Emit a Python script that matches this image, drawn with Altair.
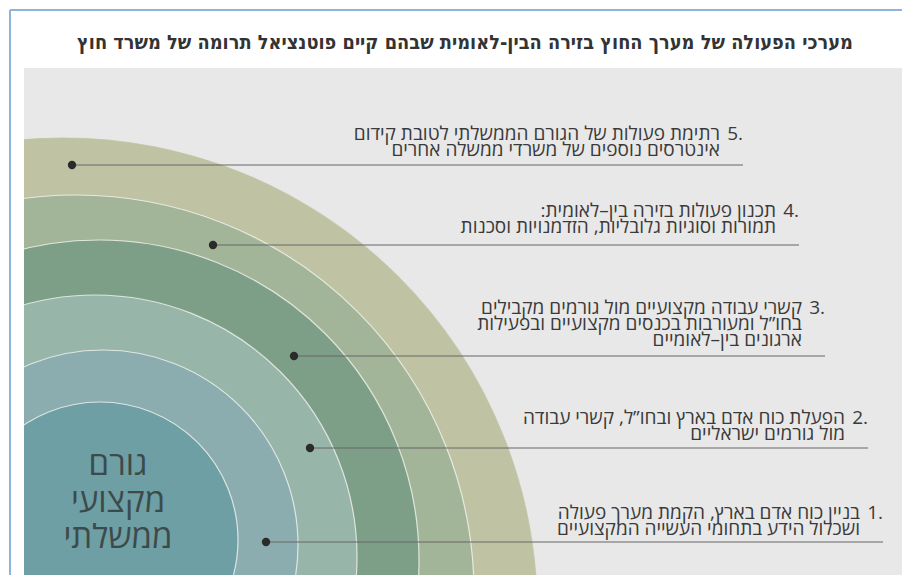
import math
import altair as alt
import pandas as pd

# ---------------- data ----------------
title = "מערכי הפעולה של מערך החוץ בזירה הבין-לאומית שבהם קיים פוטנציאל תרומה של משרד חוץ"
center_label = ["גורם", "מקצועי", "ממשלתי"]
center_label_y = [465, 502, 538]

# nested circles, outermost first (drawn back to front): centre x / y, radius, colour
ring_cx = [63, 76, 99, 95, 103, 100]
ring_cy = [612, 593, 560, 557, 545, 540]
ring_r = [474, 398, 320, 262, 195, 138]
ring_colors = ["#bfc3a3", "#a2b598", "#7d9f87", "#97b5a9", "#8badaf", "#6e9fa4"]

item_numbers = ["1.", "2.", "3.", "4.", "5."]
item_lines = [
    ["בניין כוח אדם בארץ, הקמת מערך פעולה", "ושכלול הידע בתחומי העשייה המקצועיים"],
    ["הפעלת כוח אדם בארץ ובחו”ל, קשרי עבודה", "מול גורמים ישראליים"],
    ["קשרי עבודה מקצועיים מול גורמים מקבילים",
     "בחו”ל ומעורבות בכנסים מקצועיים ובפעילות",
     "ארגונים בין–לאומיים"],
    ["תכנון פעולות בזירה בין–לאומית:", "תמורות וסוגיות גלובליות, הזדמנויות וסכנות"],
    ["רתימת פעולות של הגורם הממשלתי לטובת קידום", "אינטרסים נוספים של משרדי ממשלה אחרים"],
]
dot_x = [266, 310, 294, 213, 72]
dot_y = [542, 448, 356, 245, 165]
leader_end_x = [883, 868, 825, 799, 743]
first_line_y = [513, 418, 308, 211, 134]

# ---------------- layout ----------------
W, H = 894, 567
LINE_H = 16
TEXT_GAP = 23
xs = alt.Scale(domain=[8, 902], range=[0, W])
ys = alt.Scale(domain=[8, 575], range=[0, H])
rs = alt.Scale(type="linear", domain=[0, 1000], range=[0, 1000])
HEB = "Open Sans, DejaVu Sans, sans-serif"


def X(f):
    return alt.X(f, type="quantitative", scale=xs, axis=None)


def Y(f):
    return alt.Y(f, type="quantitative", scale=ys, axis=None)


panel_df = pd.DataFrame({"x": [24], "x2": [902], "y": [68], "y2": [575]})
cover_df = pd.DataFrame({"x": [8], "x2": [24], "y": [8], "y2": [575]})
frame_df = pd.DataFrame({"x": [10, 10], "x2": [902, 10], "y": [10, 10], "y2": [10, 575]})

rings_df = pd.DataFrame({
    "cx": ring_cx, "cy": ring_cy, "r": ring_r, "r0": [0] * len(ring_r),
    "color": ring_colors,
    # outermost edge blends into its own fill, inner edges get a thin white line
    "edge": [ring_colors[0]] + ["#f4f4f0"] * (len(ring_r) - 1),
    "order": list(range(len(ring_r))),
})

items_df = pd.DataFrame({
    "num": item_numbers, "dx": dot_x, "dy": dot_y, "ex": leader_end_x, "ly": first_line_y,
})

rows = []
for i, lines in enumerate(item_lines):
    for j, t in enumerate(lines):
        rows.append({"text": "\u200f" + t + "\u200f",
                     "x": leader_end_x[i] - TEXT_GAP,
                     "y": first_line_y[i] + LINE_H * j})
lines_df = pd.DataFrame(rows)

center_df = pd.DataFrame({"text": center_label, "x": [118] * 3, "y": center_label_y})
title_df = pd.DataFrame({"text": [title], "x": [465], "y": [43]})

panel = alt.Chart(panel_df).mark_rect(color="#e8e8e8").encode(
    x=X("x"), x2="x2", y=Y("y"), y2="y2")

rings = alt.Chart(rings_df).mark_arc(
    theta=0, theta2=2 * math.pi, clip=True, strokeWidth=1.2, strokeOpacity=0.8,
).encode(
    x=X("cx"), y=Y("cy"),
    radius=alt.Radius("r:Q", scale=rs), radius2=alt.Radius2("r0:Q"),
    color=alt.Color("color:N", scale=None),
    stroke=alt.Stroke("edge:N", scale=None),
    order=alt.Order("order:Q"),
)

cover = alt.Chart(cover_df).mark_rect(color="white").encode(
    x=X("x"), x2="x2", y=Y("y"), y2="y2")

frame = alt.Chart(frame_df).mark_rule(color="#8fb3d9", strokeWidth=2).encode(
    x=X("x"), x2="x2", y=Y("y"), y2="y2")

leaders = alt.Chart(items_df).mark_rule(color="#666666", strokeWidth=1).encode(
    x=X("dx"), x2="ex", y=Y("dy"))

dots = alt.Chart(items_df).mark_circle(size=70, color="#2b2b2b", opacity=1).encode(
    x=X("dx"), y=Y("dy"))

numbers = alt.Chart(items_df).mark_text(
    align="right", baseline="middle", font=HEB, fontSize=19, color="#3a3a3a",
).encode(x=X("ex"), y=Y("ly"), text="num:N")

labels = alt.Chart(lines_df).mark_text(
    align="right", baseline="middle", font=HEB, fontSize=19, color="#3a3a3a",
).encode(x=X("x"), y=Y("y"), text="text:N")

center = alt.Chart(center_df).mark_text(
    align="center", baseline="middle", font=HEB, fontSize=33, color="#3d4a4b",
).encode(x=X("x"), y=Y("y"), text="text:N")

title_mark = alt.Chart(title_df).mark_text(
    align="center", baseline="middle",
    font="Liberation Sans Narrow, DejaVu Sans Condensed, sans-serif",
    fontSize=19.8, fontWeight="bold", color="#333333",
).encode(x=X("x"), y=Y("y"), text="text:N")

chart = alt.layer(
    panel, rings, cover, frame, leaders, dots, numbers, labels, center, title_mark
).properties(
    width=W, height=H, padding=0, autosize=alt.AutoSizeParams(type="none"),
    background="white",
).configure_view(stroke=None)

chart.save("out.html", embed_options={"renderer": "svg", "actions": False})
